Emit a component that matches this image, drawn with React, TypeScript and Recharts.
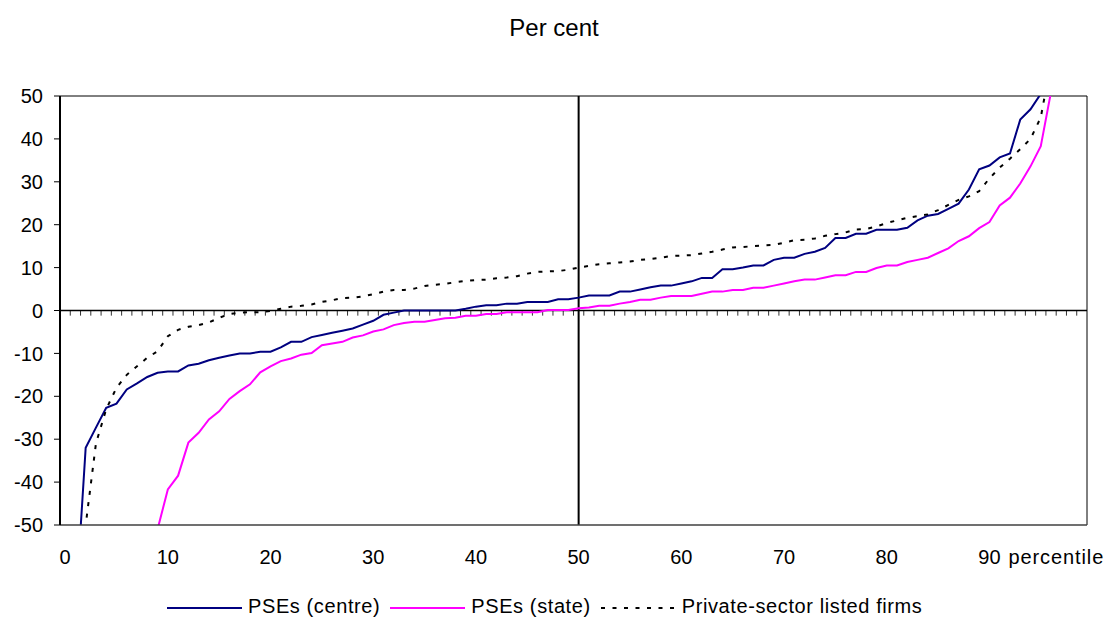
import React from 'react';
import { ComposedChart, Line, XAxis, YAxis, ReferenceLine, Legend } from 'recharts';

const FONT = '"Liberation Sans", Arial, sans-serif';

const percentiles = Array.from({ length: 100 }, (_, i) => i);

const centre = [
  -150, -70, -32, -27.3, -22.7, -21.7, -18.4, -17, -15.5, -14.5,
  -14.2, -14.2, -12.8, -12.4, -11.6, -11.0, -10.5, -10.0, -10.0, -9.6,
  -9.6, -8.6, -7.3, -7.3, -6.2, -5.7, -5.2, -4.7, -4.2, -3.3,
  -2.4, -1.0, -0.5, 0, 0, 0, 0, 0, 0, 0.4,
  0.9, 1.2, 1.2, 1.6, 1.6, 2.0, 2.0, 2.0, 2.6, 2.6,
  3.0, 3.5, 3.5, 3.5, 4.4, 4.4, 4.9, 5.4, 5.8, 5.8,
  6.3, 6.8, 7.6, 7.6, 9.6, 9.6, 10.0, 10.5, 10.5, 11.8,
  12.3, 12.3, 13.2, 13.7, 14.6, 16.9, 16.9, 17.9, 17.9, 18.8,
  18.8, 18.8, 19.3, 21.0, 22.1, 22.5, 23.7, 24.9, 28.2, 32.9,
  33.8, 35.7, 36.6, 44.5, 46.9, 50.5, 60, 75, 100, 150,
];

const state = [
  -200, -170, -140, -120, -105, -95, -85, -75, -65, -51,
  -41.7, -38.5, -30.8, -28.5, -25.4, -23.5, -20.6, -18.8, -17.2, -14.4,
  -13.0, -11.8, -11.2, -10.3, -9.9, -8.1, -7.7, -7.3, -6.3, -5.8,
  -4.9, -4.4, -3.4, -2.9, -2.6, -2.6, -2.2, -1.8, -1.7, -1.2,
  -1.2, -0.8, -0.8, -0.4, -0.4, -0.4, -0.4, 0.1, 0.1, 0.1,
  0.5, 0.7, 1.1, 1.1, 1.6, 2.0, 2.5, 2.5, 3.0, 3.4,
  3.4, 3.4, 3.9, 4.4, 4.4, 4.8, 4.8, 5.3, 5.3, 5.8,
  6.3, 6.8, 7.2, 7.2, 7.7, 8.2, 8.2, 9.0, 9.0, 9.9,
  10.5, 10.5, 11.3, 11.8, 12.3, 13.4, 14.5, 16.2, 17.3, 19.2,
  20.6, 24.5, 26.3, 29.6, 33.6, 38.3, 51, 70, 100, 150,
];

const privateFirms = [
  -150, -90, -50, -31, -23, -18, -15, -13, -11, -9.5,
  -6, -4.5, -3.8, -3.4, -2.8, -1.7, -0.8, -0.5, -0.4, -0.4,
  -0.1, 0.4, 0.9, 1.1, 1.4, 2.0, 2.4, 2.9, 3.0, 3.3,
  3.8, 4.4, 4.8, 4.8, 5.1, 5.7, 6.0, 6.2, 6.6, 6.9,
  7.1, 7.2, 7.5, 7.7, 8.0, 8.6, 9.0, 9.1, 9.2, 9.5,
  10.0, 10.4, 10.8, 11.0, 11.2, 11.4, 11.8, 12.0, 12.3, 12.7,
  12.8, 12.9, 13.3, 13.7, 14.2, 14.7, 14.8, 15.0, 15.2, 15.3,
  15.8, 16.4, 16.5, 16.8, 17.4, 17.8, 18.2, 18.9, 19.0, 19.6,
  20.4, 21.0, 21.6, 22.0, 22.4, 23.4, 24.6, 25.8, 26.6, 27.8,
  30.8, 33.3, 35.4, 37.6, 40.0, 45, 58, 75, 100, 150,
];

const yTicks = [-50, -40, -30, -20, -10, 0, 10, 20, 30, 40, 50];
const xTickPositions = [0, 10, 20, 30, 40, 50, 60, 70, 80, 90, 97];
const xTickLabels = ['0', '10', '20', '30', '40', '50', '60', '70', '80', '90', 'percentile'];
const zeroTickBoundaries = Array.from({ length: 99 }, (_, i) => i + 1);

const data = percentiles.map((p, i) => ({
  p,
  centre: centre[i],
  state: state[i],
  priv: privateFirms[i],
}));

const XTick = (props: any) => {
  const { x, y, payload } = props;
  const idx = xTickPositions.indexOf(payload.value);
  const label = idx >= 0 ? xTickLabels[idx] : '';
  const isWord = label === 'percentile';
  return (
    <text
      x={x}
      y={y}
      dy="0.71em"
      dx={isWord ? -5 : 0}
      textAnchor="middle"
      fill="#000"
      fontSize={20}
      fontFamily={FONT}
      style={{ letterSpacing: isWord ? 0.9 : 0 }}
    >
      {label}
    </text>
  );
};

const LegendContent = (props: any) => {
  const payload = props.payload || [];
  return (
    <div
      style={{
        display: 'flex',
        alignItems: 'center',
        height: 24,
        paddingLeft: 167,
        fontFamily: FONT,
        fontSize: 20,
        letterSpacing: 0.6,
        color: '#000',
        whiteSpace: 'nowrap',
      }}
    >
      {payload.map((entry: any, i: number) => (
        <div key={i} style={{ display: 'flex', alignItems: 'center', marginLeft: i ? 10 : 0 }}>
          <svg width={75} height={6} style={{ display: 'block', marginTop: 3 }}>
            <line
              x1={0}
              y1={3}
              x2={75}
              y2={3}
              stroke={entry.color}
              strokeWidth={2}
              strokeDasharray={entry.payload && entry.payload.strokeDasharray}
            />
          </svg>
          <span style={{ marginLeft: 6 }}>{entry.value}</span>
        </div>
      ))}
    </div>
  );
};

export default function App() {
  return (
    <div style={{ position: 'absolute', left: 0, top: 0, width: 1108, height: 618, background: '#fff' }}>
      <ComposedChart
        width={1108}
        height={618}
        data={data}
        margin={{ top: 96, right: 21, left: 0, bottom: 0 }}
      >
        <XAxis
          xAxisId="cat"
          dataKey="p"
          type="category"
          scale="band"
          ticks={xTickPositions}
          interval={0}
          tick={<XTick />}
          tickLine={false}
          tickSize={0}
          tickMargin={25}
          height={69}
          axisLine={{ stroke: '#404040', strokeWidth: 1.5 }}
        />
        <XAxis xAxisId="num" type="number" dataKey="p" domain={[0, 100]} allowDataOverflow hide />
        <YAxis
          domain={[-50, 50]}
          ticks={yTicks}
          interval={0}
          allowDataOverflow
          width={60}
          tickSize={6}
          tickMargin={11}
          axisLine={{ stroke: '#000', strokeWidth: 2 }}
          tickLine={{ stroke: '#000' }}
          tick={{ fill: '#000', fontSize: 20, fontFamily: FONT }}
        />
        <ReferenceLine xAxisId="cat" y={50} stroke="#000" strokeWidth={1} />
        <ReferenceLine xAxisId="num" x={100} stroke="#000" strokeWidth={1} />
        {zeroTickBoundaries.map((b) => (
          <ReferenceLine
            key={b}
            xAxisId="num"
            segment={[{ x: b, y: 0 }, { x: b, y: -1.2 }]}
            stroke="#333"
            strokeWidth={1}
          />
        ))}
        <ReferenceLine xAxisId="cat" y={0} stroke="#000" strokeWidth={1.5} />
        <ReferenceLine xAxisId="cat" x={50} stroke="#000" strokeWidth={2} />
        <Line
          xAxisId="cat"
          type="linear"
          dataKey="centre"
          name="PSEs (centre)"
          stroke="#000080"
          strokeWidth={2}
          dot={false}
          activeDot={false}
          isAnimationActive={false}
        />
        <Line
          xAxisId="cat"
          type="linear"
          dataKey="state"
          name="PSEs (state)"
          stroke="#FF00FF"
          strokeWidth={2}
          dot={false}
          activeDot={false}
          isAnimationActive={false}
        />
        <Line
          xAxisId="cat"
          type="linear"
          dataKey="priv"
          name="Private-sector listed firms"
          stroke="#000000"
          strokeWidth={2}
          strokeDasharray="4 7.5"
          dot={false}
          activeDot={false}
          isAnimationActive={false}
        />
        <Legend
          verticalAlign="bottom"
          content={<LegendContent />}
          wrapperStyle={{ left: 0, width: 1108 }}
        />
      </ComposedChart>
      <div
        style={{
          position: 'absolute',
          left: 0,
          top: 15.7,
          width: 1108,
          textAlign: 'center',
          fontFamily: FONT,
          fontSize: 24,
          lineHeight: '24px',
          color: '#000',
        }}
      >
        Per cent
      </div>
    </div>
  );
}
